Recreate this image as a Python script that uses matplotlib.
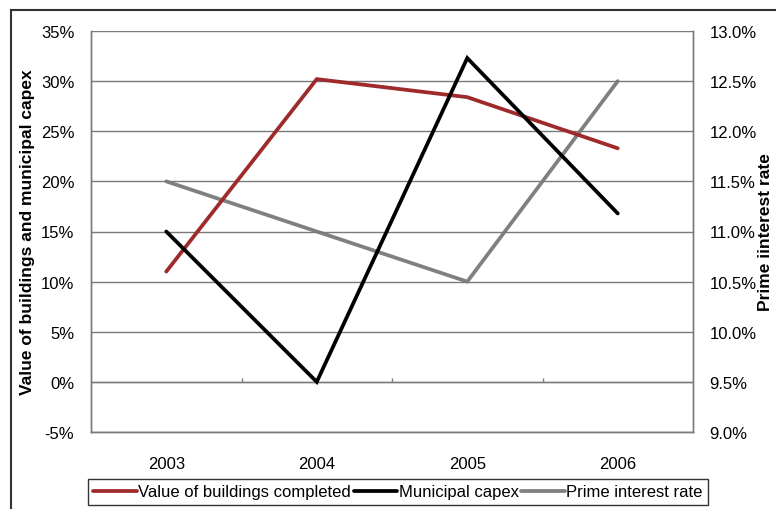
import matplotlib
matplotlib.use('Agg')
import matplotlib.pyplot as plt
from matplotlib.lines import Line2D
from matplotlib.ticker import FuncFormatter, MultipleLocator

plt.rcParams['font.family'] = ['Liberation Sans', 'DejaVu Sans']

years = ['2003', '2004', '2005', '2006']
buildings = [11.0, 30.2, 28.4, 23.3]      # % growth, left axis
capex = [15.0, 0.0, 32.3, 16.8]           # % growth, left axis
prime_rate = [11.5, 11.0, 10.5, 12.5]     # %, right axis

W, H = 776, 510
fig = plt.figure(figsize=(W / 100, H / 100), dpi=100)
fig.patch.set_facecolor('white')

# plot area in pixels
x0, x1, y0, y1 = 91, 693, 32, 433
ax = fig.add_axes([x0 / W, 1 - y1 / H, (x1 - x0) / W, (y1 - y0) / H])
ax2 = ax.twinx()

xs = list(range(1, len(years) + 1))
grid_c = '#7a7a7a'

ax.set_xlim(0.5, len(years) + 0.5)
ax.set_ylim(-5, 35)
ax.yaxis.set_major_locator(MultipleLocator(5))
ax.yaxis.set_major_formatter(FuncFormatter(lambda v, p: f'{v:.0f}%'))
ax.grid(axis='y', color=grid_c, lw=1.0)
ax.set_axisbelow(True)
ax.set_xticks(xs)
ax.set_xticklabels(years)

ax2.set_ylim(9.0, 13.0)
ax2.yaxis.set_major_locator(MultipleLocator(0.5))
ax2.yaxis.set_major_formatter(FuncFormatter(lambda v, p: f'{v:.1f}%'))

for a in (ax, ax2):
    for s in a.spines.values():
        s.set_color(grid_c)
        s.set_linewidth(1.0)
    a.spines['top'].set_visible(False)
    a.tick_params(labelsize=12, colors='black', length=0)
ax.tick_params(axis='y', pad=12)
ax2.tick_params(axis='y', pad=12)
ax.tick_params(axis='x', pad=17)

# category axis crossing at zero with small upward ticks between years
ax.axhline(0, color=grid_c, lw=1.0, zorder=1)
ax.vlines([x + 0.5 for x in xs[:-1]], 0, 0.4, color=grid_c, lw=1.0, zorder=1)

lw = 2.7
l1, = ax.plot(xs, buildings, color='#9e2a2b', lw=lw, solid_capstyle='round',
              solid_joinstyle='miter', zorder=3, label='Value of buildings completed')
l2, = ax.plot(xs, capex, color='black', lw=lw, solid_capstyle='round',
              solid_joinstyle='miter', zorder=4, label='Municipal capex')
l3, = ax2.plot(xs, prime_rate, color='#808080', lw=lw, solid_capstyle='round',
               solid_joinstyle='miter', zorder=3, label='Prime interest rate')
ax.set_zorder(ax2.get_zorder() + 1)
ax.patch.set_visible(False)

fig.text(28 / W, 1 - 232 / H, 'Value of buildings and municipal capex', rotation=90,
         ha='center', va='center', fontsize=12.5, fontweight='bold')
fig.text(766 / W, 1 - 232 / H, 'Prime iinterest rate', rotation=90,
         ha='center', va='center', fontsize=12.5, fontweight='bold')

leg = fig.legend(handles=[l1, l2, l3], loc='center', ncol=3,
                 bbox_to_anchor=(398 / W, 1 - 493 / H), fontsize=12,
                 frameon=True, fancybox=False, handlelength=2.6,
                 handletextpad=0.1, columnspacing=0.15, borderpad=0.35)
leg.get_frame().set_edgecolor('black')
leg.get_frame().set_linewidth(1.0)

# outer chart border
fig.add_artist(Line2D([11 / W, 1], [1 - 11 / H, 1 - 11 / H], color='#333333', lw=1.5))
fig.add_artist(Line2D([11 / W, 11 / W], [0, 1 - 11 / H], color='#333333', lw=1.5))

fig.savefig('out.png', dpi=100)
